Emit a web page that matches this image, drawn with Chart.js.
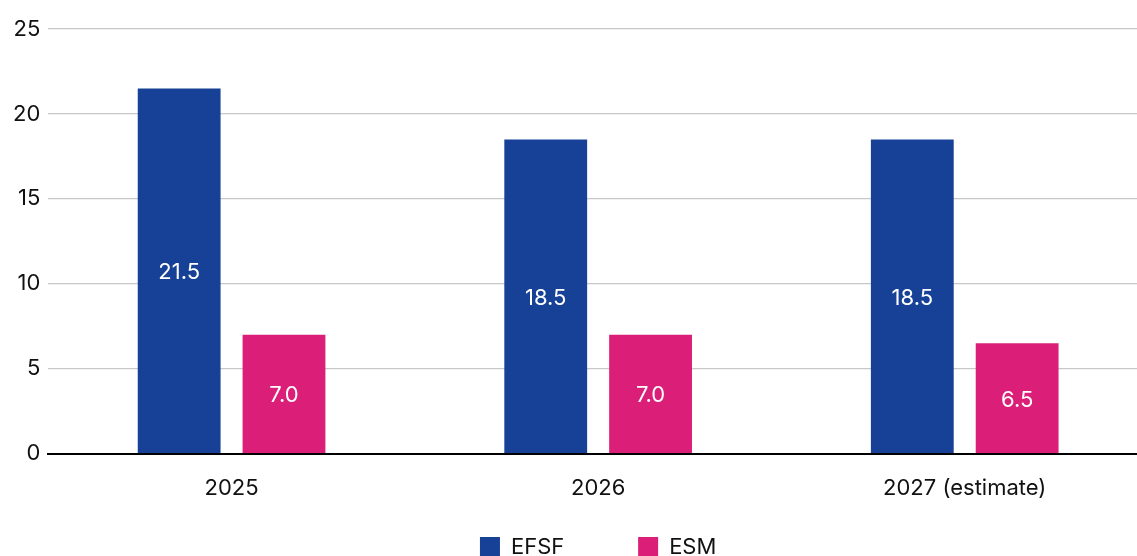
<!DOCTYPE html>
<html>
<head>
<meta charset="utf-8">
<script src="https://cdn.jsdelivr.net/npm/chart.js@4.4.1/dist/chart.umd.min.js"></script>
<style>
  html, body { margin: 0; padding: 0; background: #fff; overflow: hidden; }
  /* the original plot runs a little past the right edge of the picture */
  #wrap { width: 1148px; height: 556px; }
</style>
</head>
<body>
<div id="wrap"><canvas id="chart"></canvas></div>
<script>
// --- data ---
const years = ['2025', '2026', '2027 (estimate)'];
const efsf = [21.5, 18.5, 18.5];
const esm = [7.0, 7.0, 6.5];
const yTicks = [0, 5, 10, 15, 20, 25];

const FONT = 'Inter';

// value labels drawn in the middle of each bar
const barLabels = {
    id: 'barLabels',
    afterDatasetsDraw(chart) {
        const ctx = chart.ctx;
        ctx.save();
        ctx.fillStyle = '#ffffff';
        ctx.font = '22px ' + FONT;
        ctx.textAlign = 'center';
        ctx.textBaseline = 'middle';
        chart.data.datasets.forEach((ds, i) => {
            chart.getDatasetMeta(i).data.forEach((bar, j) => {
                const mid = (bar.y + bar.base) / 2;
                ctx.fillText(ds.data[j].toFixed(1), bar.x, mid + 2);
            });
        });
        ctx.restore();
    }
};

new Chart(document.getElementById('chart'), {
    type: 'bar',
    data: {
        labels: years,
        datasets: [
            { label: 'EFSF', data: efsf, backgroundColor: '#174196' },
            { label: 'ESM', data: esm, backgroundColor: '#db1e78' }
        ]
    },
    options: {
        responsive: true,
        maintainAspectRatio: false,
        animation: false,
        layout: { padding: { top: 29, right: 0, bottom: -12, left: 5 } },
        datasets: { bar: { categoryPercentage: 0.572, barPercentage: 0.79 } },
        plugins: {
            legend: {
                position: 'bottom',
                fullSize: false,
                labels: {
                    boxWidth: 20, boxHeight: 20, padding: 12,
                    color: '#111', font: { family: FONT, size: 22 },
                    generateLabels(chart) {
                        const items = Chart.defaults.plugins.legend.labels.generateLabels(chart);
                        // extra room after the first entry, as in the original legend
                        items[0].text = items[0].text + '          ';
                        return items;
                    }
                }
            },
            tooltip: { enabled: false }
        },
        scales: {
            x: {
                grid: { display: false, drawTicks: false },
                border: { color: '#000', width: 2 },
                ticks: { color: '#111', padding: 22, font: { family: FONT, size: 22 } }
            },
            y: {
                min: 0, max: 25,
                afterBuildTicks: (axis) => { axis.ticks = yTicks.map(v => ({ value: v })); },
                grid: { color: '#c8c8c8', lineWidth: 1.2, drawTicks: false },
                border: { display: false },
                ticks: { color: '#111', padding: 8, font: { family: FONT, size: 22 } }
            }
        }
    },
    plugins: [barLabels]
});
</script>
</body>
</html>
